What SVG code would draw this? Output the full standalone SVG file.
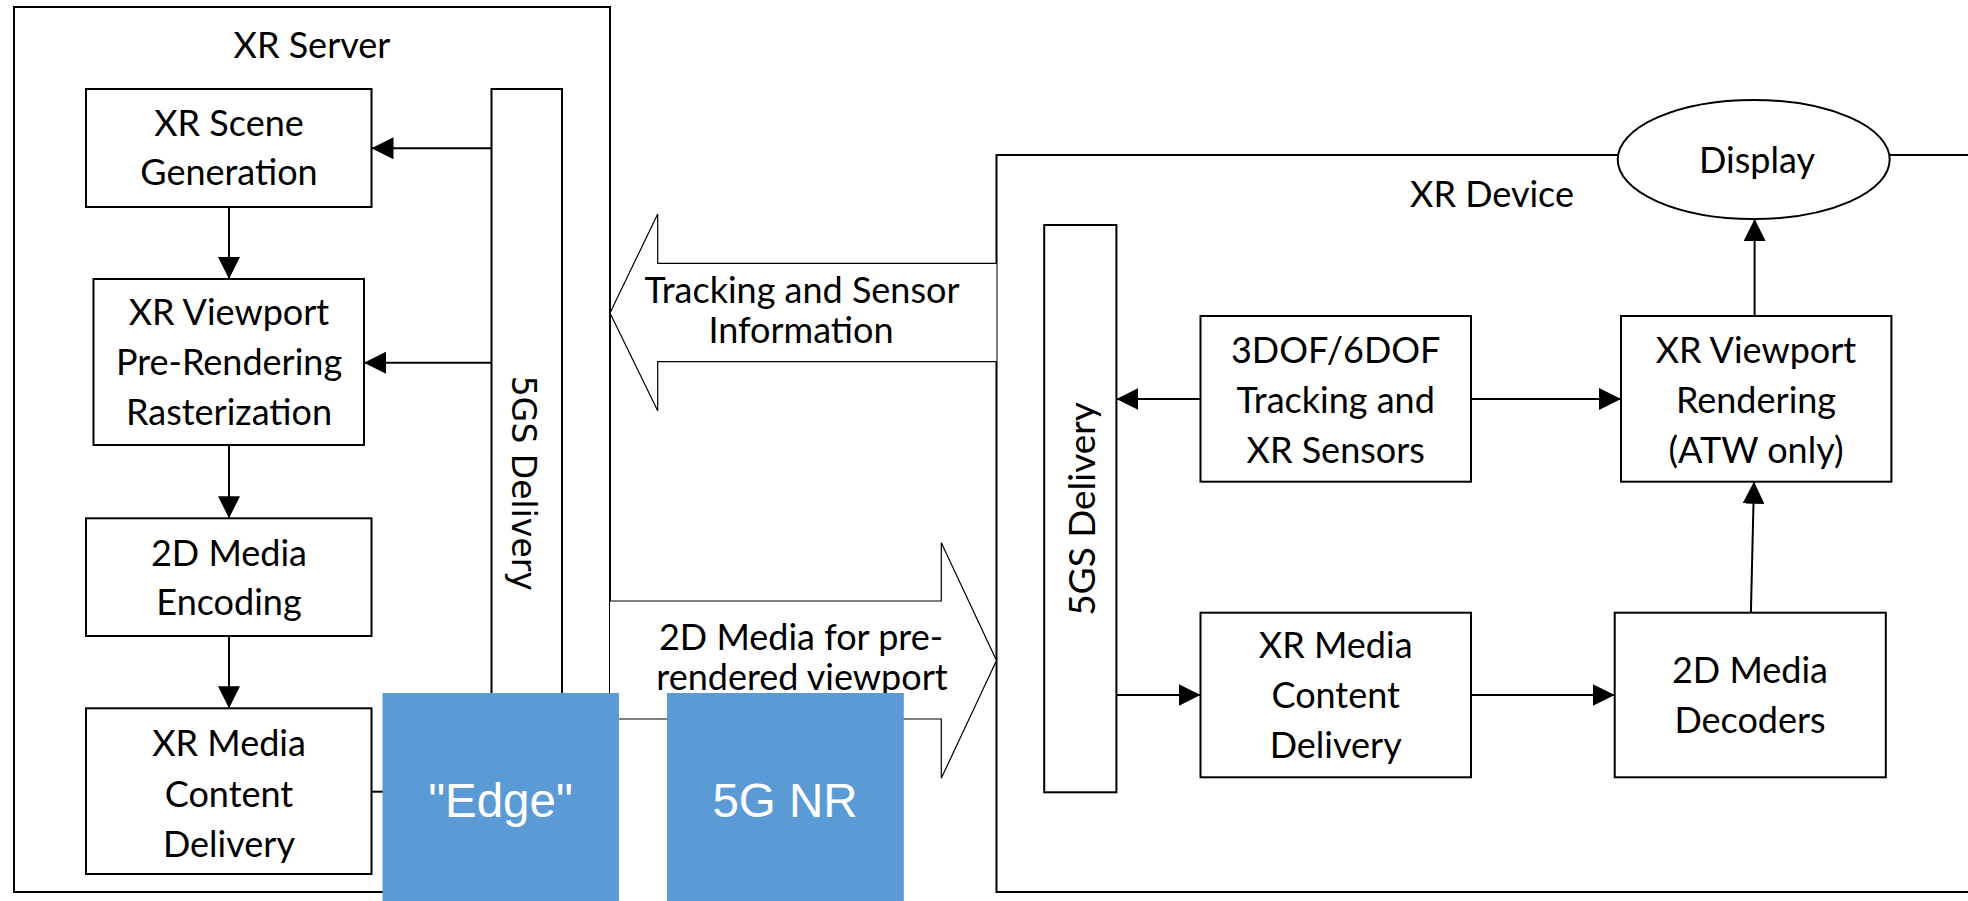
<svg xmlns="http://www.w3.org/2000/svg" width="1968" height="901" viewBox="0 0 1968 901">
<defs>
<style>
.box{fill:#fff;stroke:#000;stroke-width:2}
.frame{fill:none;stroke:#000;stroke-width:2}
.big{fill:#fff;stroke:#000;stroke-width:1.2}
.t{font-family:Lato,"Liberation Sans",sans-serif;font-size:36px;fill:#000;text-anchor:middle}
.w{font-family:"Liberation Sans",Arial,sans-serif;font-size:47.5px;fill:#fff;text-anchor:middle}
.c{fill:none;stroke:#000;stroke-width:2}
.blue{fill:#5B9BD5}
</style>
<marker id="ah" markerUnits="userSpaceOnUse" markerWidth="24" markerHeight="22" refX="22" refY="11" orient="auto">
<path d="M0,0 L22,11 L0,22 Z" fill="#000"/>
</marker>
</defs>
<rect width="1968" height="901" fill="#fff"/>

<g id="xr-server">
<rect class="frame" x="14" y="7" width="596" height="885"/>
<text class="t" x="312" y="58">XR Server</text>
</g>

<g id="xr-device">
<rect class="frame" x="996.5" y="155" width="990" height="737"/>
<text class="t" x="1492" y="207">XR Device</text>
</g>

<g id="tracking-arrow">
<polyline class="big" points="996.5,263.3 657.7,263.3 657.7,214 610,313 657.7,410.7 657.7,361.7 996.5,361.7"/>
<text class="t" x="802" y="302.7">Tracking and Sensor</text>
<text class="t" x="801" y="342.7">Information</text>
</g>

<g id="media-arrow">
<polyline class="big" points="610,601 941.3,601 941.3,542.7 996.5,660.5 941.3,778.3 941.3,719 610,719"/>
<text class="t" x="801" y="650">2D Media for pre-</text>
<text class="t" x="802" y="690">rendered viewport</text>
</g>

<g id="server-5gs">
<rect class="box" x="491.5" y="89" width="70.5" height="640"/>
<text transform="translate(511.7,483.3) rotate(90)" style="font-family:'DejaVu Sans',Verdana,sans-serif;font-size:33px;text-anchor:middle;fill:#000">5GS Delivery</text>
</g>

<g id="scene-generation">
<rect class="box" x="86" y="89" width="285.5" height="118"/>
<text class="t" x="229" y="136">XR Scene</text>
<text class="t" x="229" y="185">Generation</text>
</g>

<g id="viewport-prerendering">
<rect class="box" x="93.5" y="279" width="270.5" height="166"/>
<text class="t" x="229" y="325">XR Viewport</text>
<text class="t" x="229" y="375">Pre-Rendering</text>
<text class="t" x="229" y="425">Rasterization</text>
</g>

<g id="media-encoding">
<rect class="box" x="86" y="518.3" width="285.5" height="117.7"/>
<text class="t" x="229" y="566">2D Media</text>
<text class="t" x="229" y="615">Encoding</text>
</g>

<g id="server-content-delivery">
<rect class="box" x="86" y="708.3" width="285.5" height="165.7"/>
<text class="t" x="229" y="756">XR Media</text>
<text class="t" x="229" y="806.7">Content</text>
<text class="t" x="229" y="856.7">Delivery</text>
</g>

<g id="device-5gs">
<rect class="box" x="1044.2" y="225" width="72.2" height="567.3"/>
<text transform="translate(1095,509) rotate(-90)" class="t" style="font-size:37px">5GS Delivery</text>
</g>

<g id="display">
<ellipse cx="1753.7" cy="159.5" rx="136" ry="59.5" fill="#fff" stroke="#000" stroke-width="2"/>
<text class="t" x="1757" y="173">Display</text>
</g>

<g id="tracking-sensors">
<rect class="box" x="1200.5" y="316" width="270.5" height="165.7"/>
<text class="t" x="1335.7" y="362.7">3DOF/6DOF</text>
<text class="t" x="1335.7" y="412.7">Tracking and</text>
<text class="t" x="1335.7" y="462.7">XR Sensors</text>
</g>

<g id="viewport-rendering">
<rect class="box" x="1621" y="316" width="270.4" height="165.7"/>
<text class="t" x="1756" y="362.7">XR Viewport</text>
<text class="t" x="1756" y="412.7">Rendering</text>
<text class="t" x="1756" y="462.7">(ATW only)</text>
</g>

<g id="device-content-delivery">
<rect class="box" x="1200.5" y="612.7" width="270.5" height="164.6"/>
<text class="t" x="1335.7" y="658.3">XR Media</text>
<text class="t" x="1335.7" y="708.3">Content</text>
<text class="t" x="1335.7" y="757.5">Delivery</text>
</g>

<g id="media-decoders">
<rect class="box" x="1614.7" y="612.7" width="271.1" height="164.6"/>
<text class="t" x="1750" y="683.3">2D Media</text>
<text class="t" x="1750" y="733.3">Decoders</text>
</g>

<g id="connectors">
<line class="c" x1="491.5" y1="148.3" x2="371.5" y2="148.3" marker-end="url(#ah)"/>
<line class="c" x1="229" y1="207" x2="229" y2="279" marker-end="url(#ah)"/>
<line class="c" x1="491.5" y1="362.7" x2="364" y2="362.7" marker-end="url(#ah)"/>
<line class="c" x1="229" y1="445" x2="229" y2="518.3" marker-end="url(#ah)"/>
<line class="c" x1="229" y1="636" x2="229" y2="708.3" marker-end="url(#ah)"/>
<line class="c" x1="371.5" y1="791.7" x2="400" y2="791.7"/>
<line class="c" x1="1200.5" y1="399" x2="1116.4" y2="399" marker-end="url(#ah)"/>
<line class="c" x1="1471" y1="399" x2="1621" y2="399" marker-end="url(#ah)"/>
<line class="c" x1="1754.6" y1="316" x2="1754.6" y2="219" marker-end="url(#ah)"/>
<line class="c" x1="1116.4" y1="695" x2="1200.5" y2="695" marker-end="url(#ah)"/>
<line class="c" x1="1471" y1="695" x2="1614.7" y2="695" marker-end="url(#ah)"/>
<line class="c" x1="1750.9" y1="612.7" x2="1754" y2="481.7" marker-end="url(#ah)"/>
</g>

<g id="edge">
<rect class="blue" x="382.5" y="693" width="236.5" height="210"/>
<text class="w" x="500.5" y="817">"Edge"</text>
</g>

<g id="nr">
<rect class="blue" x="667" y="693" width="236.8" height="210"/>
<text class="w" x="785" y="817">5G NR</text>
</g>
</svg>
